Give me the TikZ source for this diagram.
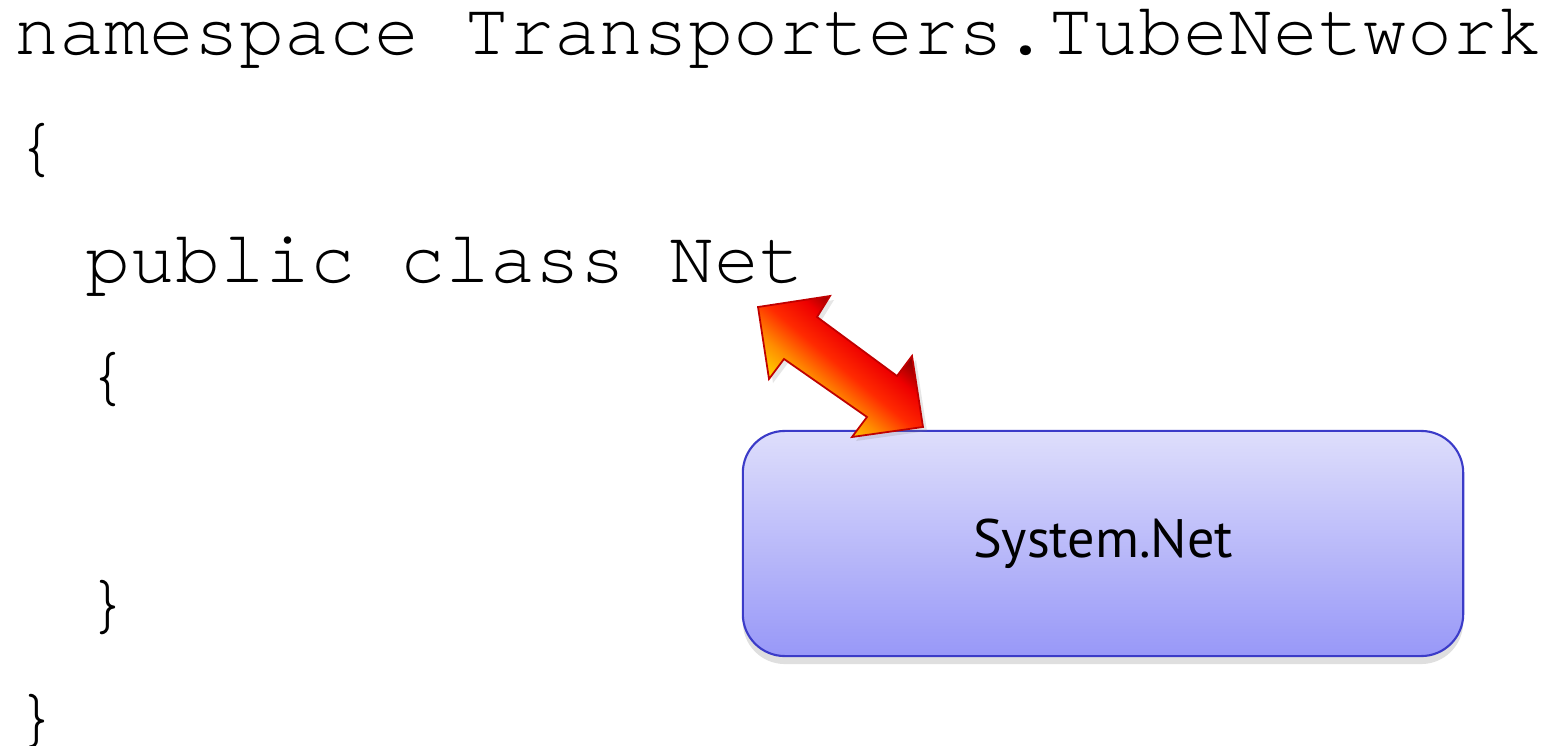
\documentclass[tikz,border=0pt]{standalone}
\usepackage{fontspec}
\setmonofont{TeX Gyre Cursor}
\setsansfont{PT Sans}
\usetikzlibrary{shadows}
\definecolor{boxtop}{HTML}{DEDEFB}
\definecolor{boxbottom}{HTML}{9898F8}
\definecolor{boxline}{HTML}{3B3BC8}
\definecolor{arrowdark}{HTML}{860000}
\definecolor{arrowred}{HTML}{EE0000}
\definecolor{arrowmid}{HTML}{FF2A00}
\definecolor{arroworange}{HTML}{FF8C00}
\definecolor{arrowlight}{HTML}{FFD400}
\definecolor{arrowline}{HTML}{C00000}
\pgfdeclareverticalshading{linkshade}{100bp}{color(0bp)=(arrowlight); color(32bp)=(arrowlight);
    color(41bp)=(arroworange); color(50bp)=(arrowmid); color(59bp)=(arrowred); color(67bp)=(arrowdark); color(100bp)=(arrowdark)}
\begin{document}
\begin{tikzpicture}[x=0.01cm, y=-0.01cm,
    code node/.style={anchor=base west, inner sep=0pt, font=\ttfamily\fontsize{21.3pt}{24pt}\selectfont},
    lib node/.style={draw=boxline, line width=0.6pt, rounded corners=0.42cm, top color=boxtop, bottom color=boxbottom,
        drop shadow={shadow xshift=0pt, shadow yshift=-0.8mm, opacity=0.25}, font=\sffamily\fontsize{15.4pt}{18pt}\selectfont},
    link arrow/.style={draw=arrowline, line width=0.5pt, shade, shading=linkshade, shading angle=-40}]
    \useasboundingbox (0,0) rectangle (1543,746);

    \node[code node] at (14, 55) (ns) {namespace Transporters.TubeNetwork};
    \node[code node] at (14, 169) (open1) {\{};
    \node[code node] at (85, 283) (cls) {public class Net};
    \node[code node] at (85, 397) (open2) {\{};
    \node[code node] at (85, 625) (close2) {\}};
    \node[code node] at (14, 739) (close1) {\}};

    \node[lib node, minimum width=7.2cm, minimum height=2.25cm] at (1103, 543.5) (sysnet) {System.Net};

    \path[link arrow, drop shadow={shadow xshift=0.4mm, shadow yshift=-0.4mm, opacity=0.2}]
        (758,307) -- (830,296) -- (817,317) -- (897,376) -- (912,356) -- (923,427)
        -- (852,437) -- (867,417) -- (784,359) -- (769,379) -- cycle;
\end{tikzpicture}
\end{document}
